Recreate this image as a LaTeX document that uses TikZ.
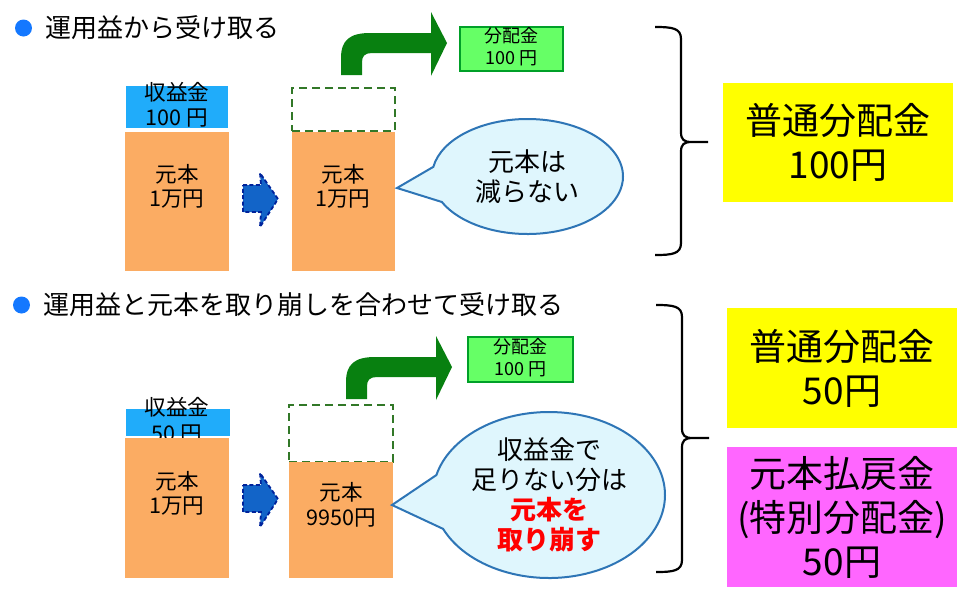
\documentclass[tikz,border=0pt]{standalone}
\usepackage{fontspec}
\setmainfont{Noto Sans CJK JP}
\usepackage{tikz}
\usetikzlibrary{shapes.callouts}

\definecolor{dotblue}{RGB}{20,120,255}
\definecolor{incblue}{RGB}{32,172,250}
\definecolor{prinorange}{RGB}{251,172,99}
\definecolor{slotgreen}{RGB}{50,120,40}
\definecolor{turngreen}{RGB}{8,128,16}
\definecolor{paidfill}{RGB}{102,255,102}
\definecolor{paidline}{RGB}{0,160,40}
\definecolor{stepblue}{RGB}{18,100,200}
\definecolor{stepline}{RGB}{0,35,155}
\definecolor{bubfill}{RGB}{223,246,253}
\definecolor{bubline}{RGB}{46,117,182}
\definecolor{normyellow}{RGB}{255,255,0}
\definecolor{specpink}{RGB}{255,102,255}
\definecolor{alertred}{RGB}{255,0,0}

\begin{document}
\begin{tikzpicture}[x=0.5pt, y=-0.5pt,
    bullet/.style={circle, fill=dotblue, minimum size=8.5pt, inner sep=0pt},
    heading/.style={anchor=west, inner sep=0pt, font=\fontsize{13}{15}\selectfont},
    incbox/.style={fill=incblue, inner sep=0pt, minimum width=51pt},
    principal/.style={fill=prinorange, inner sep=0pt, minimum width=52pt},
    slot/.style={draw=slotgreen, dashed, dash pattern=on 4pt off 2.5pt, line width=0.9pt, inner sep=0pt, minimum width=51.5pt},
    stacktext/.style={inner sep=0pt, align=center, font=\fontsize{10.8}{11.8}\selectfont},
    paid/.style={fill=paidfill, draw=paidline, line width=0.8pt, inner sep=0pt, minimum width=51.5pt, minimum height=22pt},
    paidtext/.style={inner sep=0pt, align=center, font=\fontsize{9}{11}\selectfont},
    bubble/.style={ellipse callout, fill=bubfill, draw=bubline, line width=1pt, inner sep=0pt, align=center, font=\fontsize{13}{15}\selectfont},
    bigbox/.style={inner sep=0pt, align=center, minimum width=115pt, font=\fontsize{18.5}{22}\selectfont}]
  \useasboundingbox (0,0) rectangle (964,595);

  % upper case: paid out of the income only
  \node[bullet] (dotA) at (23.5,28) {};
  \node[heading] (headA) at (45,28) {運用益から受け取る};
  \node[incbox, minimum height=21pt] (incA) at (177,107) {};
  \node[stacktext, font=\fontsize{10.8}{12.5}\selectfont] (incAtext) at (177,104.5) {収益金\\100 円};
  \node[principal, minimum height=69.5pt] (prinA) at (177,201.5) {};
  \node[stacktext] (prinAtext) at (177,186.5) {元本\\1万円};
  \node[slot, minimum height=21.5pt] (slotA) at (343.5,109.5) {};
  \node[principal, minimum width=51.5pt, minimum height=69.5pt] (prinB) at (343.5,201.5) {};
  \node[stacktext] (prinBtext) at (343,186.5) {元本\\1万円};
  \node[paid] (paidA) at (511.5,49) {};
  \node[paidtext] (paidAtext) at (511.5,46.5) {分配金\\100 円};
  \coordinate (tipA) at (397,188);
  \node[bubble, minimum width=95.5pt, minimum height=57.5pt, callout pointer arc=36, callout absolute pointer={(tipA)}] (bubA) at (527.5,176.5) {元本は\\減らない};
  \node[bigbox, fill=normyellow, minimum height=59.5pt] (normA) at (838,142.5) {普通分配金\\100円};

  % lower case: income plus a part of the principal
  \node[bullet] (dotB) at (21.5,305) {};
  \node[heading] (headB) at (43,305) {運用益と元本を取り崩しを合わせて受け取る};
  \node[incbox, minimum width=52pt, minimum height=13.5pt] (incB) at (178,422.5) {};
  \node[stacktext, font=\fontsize{10.8}{12.8}\selectfont] (incBtext) at (177,420) {収益金\\50 円};
  \node[principal, minimum height=70pt] (prinC) at (177,508) {};
  \node[stacktext] (prinCtext) at (177,493.5) {元本\\1万円};
  \node[slot, minimum width=52pt, minimum height=28.5pt] (slotB) at (341,433.5) {};
  \node[principal, minimum height=58pt] (prinD) at (341,520) {};
  \node[stacktext, font=\fontsize{10.8}{12.5}\selectfont] (prinDtext) at (341,504.5) {元本\\9950円};
  \node[paid, minimum width=52.5pt, minimum height=22.5pt] (paidB) at (520.5,359.5) {};
  \node[paidtext] (paidBtext) at (520.5,357.5) {分配金\\100 円};
  \coordinate (tipB) at (392,505);
  \node[bubble, minimum width=116pt, minimum height=83pt, callout pointer arc=38, callout absolute pointer={(tipB)}] (bubB) at (549,495)
    {収益金で\\足りない分は\\{\color{alertred}\bfseries 元本を}\\{\color{alertred}\bfseries 取り崩す}};
  \node[bigbox, fill=normyellow, minimum height=60pt] (normB) at (842,368) {普通分配金\\50円};
  \node[bigbox, fill=specpink, minimum height=70pt] (specB) at (842,517) {元本払戻金\\(特別分配金)\\50円};

  % blue step arrows
  \foreach \dy in {0, 300}{
    \fill[stepblue, draw=stepline, line width=0.9pt, dash pattern=on 2pt off 1.2pt, shift={(0,\dy)}]
      (243,185) -- (261,185) -- (260,173) -- (278,199) -- (260,227) -- (261,212) -- (243,212) -- cycle;
  }
  % green turning arrows
  \foreach \dx/\dy in {0/0, 5/324}{
    \fill[turngreen, shift={(\dx,\dy)}]
      (341,75) -- (341,58) .. controls (341,40) and (350,33) .. (370,33) -- (431,33) -- (431,12)
      -- (447,43) -- (431,76) -- (431,53) -- (372,53) .. controls (365,53) and (362,56) .. (362,62)
      -- (362,75) -- cycle;
  }
  % braces
  \foreach \ya/\ym/\yb/\xs in {27/142/255/0, 305/438/572/1}{
    \draw[line width=1.1pt, shift={(\xs,0)}]
      (655,\ya) .. controls (672,\ya) and (681,\ya+1) .. (681,\ya+12) -- (681,\ym-10)
      .. controls (681,\ym-2) and (684,\ym) .. (692,\ym) -- (708,\ym) -- (692,\ym)
      .. controls (684,\ym) and (681,\ym+2) .. (681,\ym+10) -- (681,\yb-12)
      .. controls (681,\yb-1) and (672,\yb) .. (655,\yb);
  }
\end{tikzpicture}
\end{document}
